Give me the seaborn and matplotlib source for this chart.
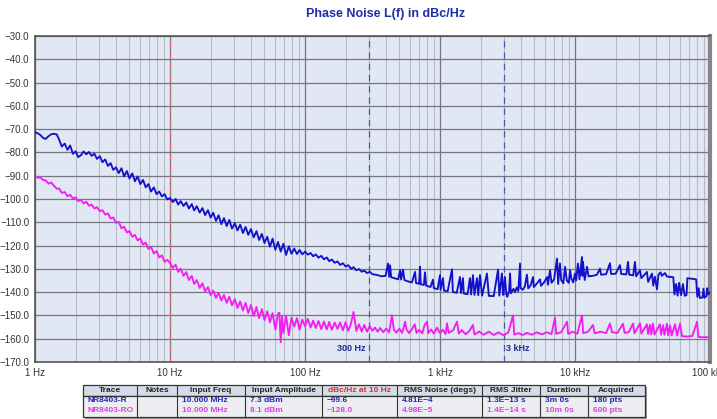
import matplotlib
matplotlib.use("Agg")
import numpy as np
import pandas as pd
import matplotlib.pyplot as plt
import seaborn as sns
from matplotlib.patches import Rectangle
from matplotlib.ticker import FixedLocator, NullFormatter, LogLocator

# ---------------- data ----------------
title_text = "Phase Noise L(f) in dBc/Hz"

y_ticks = [-170, -160, -150, -140, -130, -120, -110, -100, -90, -80, -70, -60, -50, -40, -30]
x_ticks = [1, 10, 100, 1000, 10000, 100000]
x_tick_labels = ["1 Hz", "10 Hz", "100 Hz", "1 kHz", "10 kHz", "100 kHz"]

marker_freqs = [300, 3000]
marker_labels = ["300 Hz", "3 kHz"]
ref_freq = 10

blue_freq_hz = [
    1.0, 1.05, 1.1, 1.15, 1.2, 1.26, 1.32, 1.38, 1.45, 1.51, 1.58, 1.66, 1.74, 1.82, 1.91,
    2.0, 2.09, 2.19, 2.29, 2.4, 2.51, 2.63, 2.75, 2.88, 3.02, 3.16, 3.31, 3.47, 3.63, 3.8,
    3.98, 4.17, 4.37, 4.57, 4.79, 5.01, 5.25, 5.5, 5.75, 6.03, 6.31, 6.61, 6.92, 7.24, 7.59,
    7.94, 8.32, 8.71, 9.12, 9.55,
    10, 10.5, 11, 11.5, 12, 12.6, 13.2, 13.8, 14.5, 15.1, 15.8, 16.6, 17.4, 18.2, 19.1,
    20, 20.9, 21.9, 22.9, 24, 25.1, 26.3, 27.5, 28.8, 30.2, 31.6, 33.1, 34.7, 36.3, 38,
    39.8, 41.7, 43.7, 45.7, 47.9, 50.1, 52.5, 55, 57.5, 60.3, 63.1, 66.1, 69.2, 72.4, 75.9,
    79.4, 83.2, 87.1, 91.2, 95.5,
    100, 105, 110, 115, 120, 126, 132, 138, 145, 151, 158, 166, 174, 182, 191,
    200, 209, 219, 229, 240, 251, 263, 275, 288, 302, 316,
    340, 370, 395, 412, 420, 427, 435, 460, 490, 506, 515, 532, 545, 580, 620, 653, 665,
    700, 711, 720, 760, 774, 790, 850, 887, 900, 960, 1000, 1010, 1052, 1070, 1140, 1227,
    1245, 1330, 1406, 1430, 1479, 1500, 1600, 1667, 1700, 1754, 1800, 1879, 1920, 1977,
    2050, 2228, 2300, 2500, 2692, 2750, 2877, 2930, 3027, 3100, 3150, 3250, 3304, 3350,
    3500, 3600, 3700, 3800, 3917, 3950, 4100, 4250, 4406, 4500, 4700, 4887, 4950, 5200,
    5508, 5600, 5900, 6209, 6300, 6530, 6700, 7000, 7360, 7500, 7740, 7900, 8200, 8440,
    8700, 9000, 9190, 9400, 9700, 10000, 10200, 10520, 10800, 11270, 11360, 11460, 11800,
    12270, 12600, 13500, 14500, 15310, 15600, 17000, 18160, 18500, 20000, 21530, 22000,
    24000, 24700, 25200, 27000, 27800, 28400, 30300, 31000, 34100, 34800, 37200, 38000,
    39100, 40500, 41500, 43000, 44000, 46400, 48000, 52000, 53500, 54500, 56000, 57500,
    59000, 61000, 63000, 65000, 67000, 68000, 75000, 79000, 80500, 82500, 84000, 88000,
    89500, 91000, 94000, 95500, 97000, 100000,
]
blue_dbc = [
    -71.3, -71.8, -72.6, -73.8, -74.2, -73.0, -72.2, -72.0, -72.3, -74.5, -77.5, -76.2, -78.9, -77.0, -80.6,
    -79.5, -82.0, -81.2, -79.6, -80.8, -79.8, -81.5, -80.5, -82.8, -81.6, -84.2, -83.0, -85.8, -84.6, -87.5,
    -86.4, -88.9, -86.8, -90.3, -88.0, -91.2, -89.0, -92.4, -90.3, -93.6, -91.8, -95.0, -93.6, -96.8, -95.0,
    -97.9, -96.8, -98.9, -97.9, -100.2,
    -99.6, -101.3, -100.0, -102.4, -100.9, -103.0, -101.5, -104.1, -102.2, -104.9, -103.1, -105.8, -103.9, -106.9, -104.8,
    -108.0, -105.9, -109.4, -107.0, -110.8, -108.2, -111.6, -109.0, -112.7, -110.4, -113.5, -111.0, -114.6, -112.0, -115.4,
    -112.9, -116.5, -113.8, -117.6, -115.0, -118.9, -116.2, -120.5, -117.0, -121.8, -118.5, -122.6, -119.2, -124.0, -120.3,
    -123.5, -121.3, -123.6, -121.9, -123.8,
    -122.6, -123.9, -123.2, -124.6, -123.8, -125.2, -124.4, -125.9, -125.1, -126.7, -126.0, -127.4, -126.8, -128.3, -127.6,
    -129.0, -128.4, -129.9, -129.3, -130.6, -130.1, -131.2, -130.8, -131.8, -131.3, -132.3,
    -132.6, -133.2, -133.0, -127.7, -133.4, -128.5, -133.6, -134.0, -134.5, -130.6, -134.6, -130.3, -134.8, -135.4, -135.8, -131.3, -136.1,
    -136.4, -129.1, -136.6, -136.9, -131.5, -137.2, -137.8, -134.6, -138.3, -138.7, -132.7, -139.0, -134.0, -139.3, -139.6, -130.2,
    -139.9, -140.3, -133.5, -140.4, -134.0, -140.6, -140.9, -134.0, -141.0, -132.7, -141.2, -134.0, -141.3, -132.7,
    -141.5, -132.0, -141.6, -141.7, -130.3, -141.5, -132.0, -141.2, -133.5, -140.8, -142.0, -139.5, -132.0, -140.5,
    -138.6, -140.0, -138.0, -139.5, -127.7, -138.2, -139.0, -137.6, -132.5, -138.4, -137.0, -133.5, -137.8, -136.4,
    -134.5, -137.3, -135.8, -133.5, -136.8, -130.6, -136.0, -134.5, -125.6, -136.5, -127.7, -134.8, -136.2, -129.1,
    -135.0, -136.0, -130.6, -134.2, -135.8, -132.0, -135.0, -127.7, -134.5, -124.9, -133.0, -127.0, -134.8,
    -129.1, -133.2, -133.0, -132.6, -129.9, -132.5, -132.3, -127.6, -132.2, -132.1, -128.4, -132.2,
    -132.4, -127.0, -132.5, -132.8, -127.0, -133.2, -130.6, -134.0, -131.3, -135.6, -132.0, -137.2,
    -133.4, -138.8, -132.5, -131.5, -133.0, -131.8, -133.3, -133.5, -133.6, -141.0, -136.5, -141.5,
    -136.0, -141.3, -136.5, -141.6, -141.2, -134.0, -134.3, -134.5, -142.0, -138.3, -142.5, -142.3,
    -138.5, -142.4, -141.8, -138.3, -141.0, -140.0,
]

magenta_freq_hz = [
    1.0, 1.05, 1.1, 1.15, 1.2, 1.26, 1.32, 1.38, 1.45, 1.51, 1.58, 1.66, 1.74, 1.82, 1.91,
    2.0, 2.09, 2.19, 2.29, 2.4, 2.51, 2.63, 2.75, 2.88, 3.02, 3.16, 3.31, 3.47, 3.63, 3.8,
    3.98, 4.17, 4.37, 4.57, 4.79, 5.01, 5.25, 5.5, 5.75, 6.03, 6.31, 6.61, 6.92, 7.24, 7.59,
    7.94, 8.32, 8.71, 9.12, 9.55,
    10, 10.5, 11, 11.5, 12, 12.6, 13.2, 13.8, 14.5, 15.1, 15.8, 16.6, 17.4, 18.2, 19.1,
    20, 20.9, 21.9, 22.9, 24, 25.1, 26.3, 27.5, 28.8, 30.2, 31.6, 33.1, 34.7, 36.3, 38,
    39.8, 41.7, 43.7, 45.7, 47.9, 50.1, 52.5, 55, 57.5, 60.3, 63.1, 64.6, 66.1, 67.6, 69.2,
    72.4, 75.9, 79.4, 83.2, 87.1, 91.2, 95.5,
    100, 105, 110, 115, 120, 126, 132, 138, 145, 151, 158, 166, 174, 182, 191,
    200, 209, 219, 229, 240, 251, 263, 275, 288, 302, 316,
    330, 345, 360, 380, 400, 420, 441, 455, 475, 500, 525, 551, 565, 590, 620, 650, 670,
    700, 740, 770, 801, 820, 860, 900, 950, 1000, 1050, 1100, 1127, 1160, 1250, 1336,
    1380, 1450, 1550, 1650, 1754, 1800, 1950, 2100, 2300, 2500, 2700, 2950, 3200, 3475,
    3550, 3800, 4100, 4400, 4800, 5200, 5700, 6200, 6700, 7110, 7250, 7900, 8730, 8900,
    9600, 10400, 11270, 11500, 12500, 13590, 14000, 15500, 17000, 18160, 18800, 20500,
    22700, 23300, 25000, 26900, 27600, 30300, 31000, 34100, 34800, 35900, 36700, 37800,
    38800, 42600, 43500, 44900, 46000, 48000, 49000, 50600, 52000, 55100, 57000, 60000,
    62000, 68000, 74000, 80200, 82000, 88000, 94000, 100000,
]
magenta_dbc = [
    -90.0, -90.9, -90.8, -91.9, -92.0, -93.4, -92.9, -94.3, -95.6, -95.5, -97.4, -97.0, -98.8, -98.2, -99.8,
    -99.3, -100.9, -100.4, -101.9, -101.2, -102.9, -102.4, -104.1, -103.5, -105.3, -104.8, -106.7, -106.2, -108.4, -107.9,
    -110.3, -109.8, -112.6, -111.9, -114.4, -113.7, -116.2, -115.4, -117.8, -116.9, -119.6, -118.7, -121.5, -120.6, -123.4,
    -122.4, -125.1, -124.2, -127.0, -126.1,
    -127.5, -129.6, -128.2, -131.3, -129.9, -133.0, -131.4, -134.8, -133.0, -136.5, -134.8, -138.2, -136.2, -139.7, -137.8,
    -141.3, -139.3, -142.5, -140.3, -143.6, -141.2, -144.6, -142.0, -145.7, -143.0, -146.8, -144.0, -147.9, -144.6, -149.0,
    -145.5, -150.3, -146.4, -151.2, -147.3, -152.0, -148.2, -152.9, -149.0, -156.0, -149.3, -148.8, -161.5, -150.5, -157.5,
    -150.2, -158.5, -151.0, -154.8, -151.2, -156.1, -151.8,
    -154.6, -151.5, -155.2, -152.2, -155.4, -152.4, -155.9, -152.6, -156.0, -152.8, -156.2, -153.1, -155.8, -153.0, -156.4,
    -152.9, -156.6, -153.5, -148.5, -156.7, -153.8, -156.9, -154.1, -157.0, -154.6, -156.6,
    -155.2, -157.0, -155.4, -157.2, -155.6, -157.3, -149.9, -156.2, -157.4, -155.7, -157.5, -152.7, -156.0, -157.6, -155.9, -153.8, -157.5,
    -156.2, -157.7, -154.0, -152.7, -157.6, -156.0, -157.8, -155.2, -157.6, -156.1, -158.0, -153.4, -157.5, -156.4, -152.7,
    -157.8, -156.3, -158.1, -156.7, -154.1, -158.2, -156.9, -158.3, -157.0, -158.4, -157.3, -158.5, -157.4, -150.0,
    -158.3, -157.6, -158.4, -157.5, -158.3, -157.3, -158.1, -157.2, -158.0, -150.9, -157.9, -157.2, -152.7, -157.9,
    -157.0, -157.9, -150.0, -157.6, -157.0, -154.1, -157.7, -157.0, -157.6, -153.5, -157.2, -157.6,
    -153.6, -157.5, -157.2, -153.5, -157.7, -153.4, -157.8, -153.8, -158.0, -154.0, -158.1, -153.5,
    -158.2, -153.8, -158.3, -154.2, -158.3, -153.6, -158.5, -154.3, -158.6, -153.8, -158.7, -153.5,
    -158.9, -159.1, -158.8, -152.7, -159.2, -159.4, -159.3, -159.5,
]

table_headers = ["Trace", "Notes", "Input Freq", "Input Amplitude", "dBc/Hz at 10 Hz",
                 "RMS Noise (degs)", "RMS Jitter", "Duration", "Acquired"]
table_row_blue = ["NR8403-R", "", "10.000 MHz", "7.3 dBm", "\u221299.6",
                  "4.81E\u22124", "1.3E\u221213 s", "3m 0s", "180 pts"]
table_row_magenta = ["NR8403-RO", "", "10.000 MHz", "8.1 dBm", "\u2212128.0",
                     "4.98E\u22125", "1.4E\u221214 s", "10m 0s", "600 pts"]

# ---------------- style ----------------
sns.set_theme(style="white")
plt.rcParams["font.family"] = ["Liberation Sans", "DejaVu Sans"]

BLUE = "#1212cc"
MAGENTA = "#f21ef2"

fig = plt.figure(figsize=(7.17, 4.19), dpi=100)
W, H = 717, 419
ax = fig.add_axes([35 / W, 1 - 362 / H, 675 / W, 326 / H])
ax.set_facecolor("#e2e7f4")

ax.set_xscale("log")
ax.set_xlim(1, 100000)
ax.set_ylim(-170, -30)

ax.xaxis.set_major_locator(FixedLocator(x_ticks))
ax.xaxis.set_minor_locator(LogLocator(base=10, subs=np.arange(2, 10), numticks=20))
ax.xaxis.set_minor_formatter(NullFormatter())
ax.set_xticklabels(x_tick_labels)
ax.set_yticks(y_ticks)
ax.set_yticklabels([f"{v:.1f}".replace("-", "\u2212") for v in y_ticks])

ax.grid(which="minor", axis="x", color="#b6bbc8", lw=0.8)
ax.grid(which="major", axis="x", color="#737782", lw=0.9)
ax.grid(which="major", axis="y", color="#737782", lw=0.9)
ax.set_axisbelow(True)

ax.tick_params(axis="both", which="both", length=0, labelsize=7, colors="#333333")
ax.tick_params(axis="x", pad=4)
ax.tick_params(axis="y", pad=4)

for side in ["left", "bottom", "top"]:
    ax.spines[side].set_color("#555555")
    ax.spines[side].set_linewidth(1.2)
ax.spines["right"].set_color("#858585")
ax.spines["right"].set_linewidth(3)

# reference / marker lines
ax.axvline(ref_freq, color="#e06a6a", ls=(0, (5, 4)), lw=0.9, zorder=1.5)
for mf in marker_freqs:
    ax.axvline(mf, color="#4a56a8", ls=(0, (5, 4)), lw=0.9, zorder=1.5)

# traces
sns.lineplot(x=magenta_freq_hz, y=magenta_dbc, ax=ax, color=MAGENTA, lw=1.35,
             sort=False, estimator=None, zorder=3)
sns.lineplot(x=blue_freq_hz, y=blue_dbc, ax=ax, color=BLUE, lw=1.35,
             sort=False, estimator=None, zorder=4)

ax.set_xlabel("")
ax.set_ylabel("")

ax.annotate(marker_labels[0], xy=(marker_freqs[0], -164.4), xytext=(-2.5, 0),
            textcoords="offset points", ha="right", va="center",
            fontsize=6.5, fontweight="bold", color="#1c2a90", zorder=6)
ax.annotate(marker_labels[1], xy=(marker_freqs[1], -164.4), xytext=(1.5, 0),
            textcoords="offset points", ha="left", va="center",
            fontsize=6.5, fontweight="bold", color="#1c2a90", zorder=6)

fig.text(386 / W, 1 - 14 / H, title_text, ha="center", va="center",
         fontsize=9, fontweight="bold", color="#1c2fa8")

# ---------------- table ----------------
tax = fig.add_axes([0, 0, 1, 1])
tax.set_xlim(0, W)
tax.set_ylim(H, 0)
tax.axis("off")

col_edges = [83, 137, 177, 245, 322, 397, 482, 540, 588, 645]
top, mid, bot = 384.5, 395.5, 416.5

tax.add_patch(Rectangle((col_edges[0] + 2, top + 2), col_edges[-1] - col_edges[0], bot - top,
                        facecolor="#9a9a9a", edgecolor="none", zorder=1))
tax.add_patch(Rectangle((col_edges[0], top), col_edges[-1] - col_edges[0], mid - top,
                        facecolor="#d6dce7", edgecolor="#333333", lw=0.9, zorder=2))
tax.add_patch(Rectangle((col_edges[0], mid), col_edges[-1] - col_edges[0], bot - mid,
                        facecolor="#eceef2", edgecolor="#333333", lw=0.9, zorder=2))
for xe in col_edges[1:-1]:
    tax.plot([xe, xe], [top, bot], color="#333333", lw=0.8, zorder=3)

for i, h in enumerate(table_headers):
    cx = (col_edges[i] + col_edges[i + 1]) / 2
    tax.text(cx, (top + mid) / 2 + 0.3, h, ha="center", va="center", fontsize=6,
             fontweight="bold", color="#d43030" if i == 4 else "#222222", zorder=4)
for i in range(len(table_headers)):
    x0 = col_edges[i] + 5
    tax.text(x0, 400.8, table_row_blue[i], ha="left", va="center", fontsize=6,
             fontweight="bold", color="#2424b8", zorder=4)
    tax.text(x0, 410.2, table_row_magenta[i], ha="left", va="center", fontsize=6,
             fontweight="bold", color="#e040e0", zorder=4)

fig.savefig("out.png", dpi=100)
